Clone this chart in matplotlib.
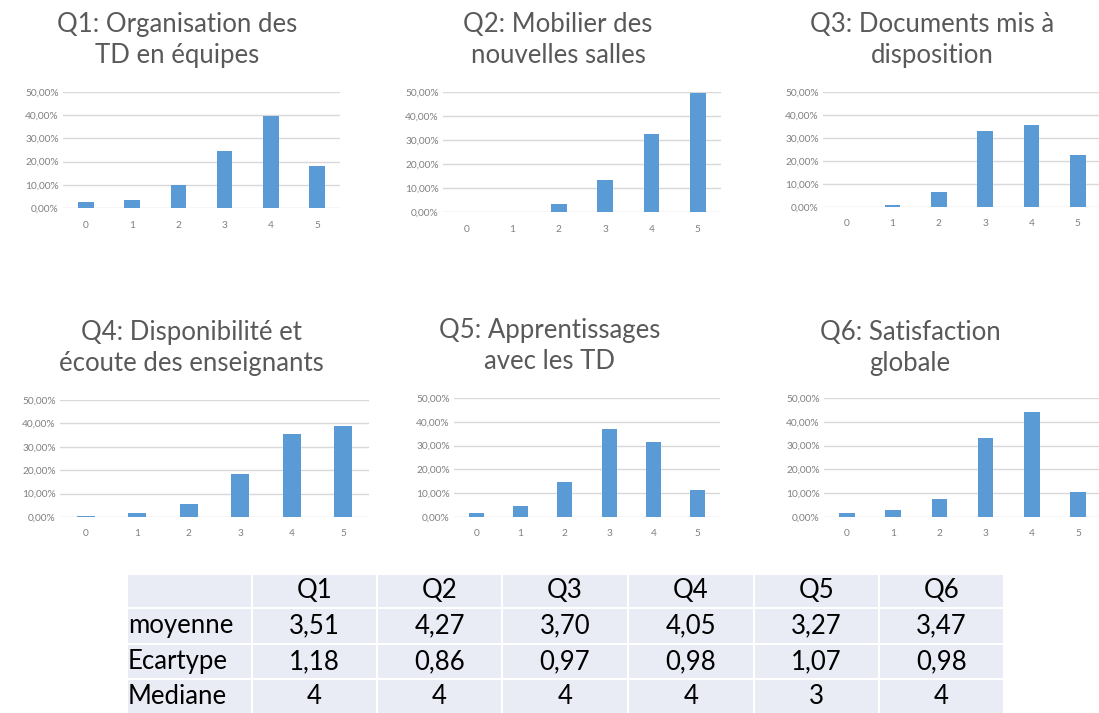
import matplotlib
matplotlib.use("Agg")
import matplotlib.pyplot as plt
from matplotlib.ticker import FuncFormatter, MultipleLocator
from matplotlib.patches import Rectangle

plt.rcParams['font.family'] = ['Lato', 'DejaVu Sans']

# ---------------- data ----------------
scores = [0, 1, 2, 3, 4, 5]
titles = ["Q1: Organisation des\nTD en équipes",
          "Q2: Mobilier des\nnouvelles salles",
          "Q3: Documents mis à\ndisposition",
          "Q4: Disponibilité et\nécoute des enseignants",
          "Q5: Apprentissages\navec les TD",
          "Q6: Satisfaction\nglobale"]
q1 = [0.025, 0.035, 0.100, 0.245, 0.395, 0.180]
q2 = [0.000, 0.000, 0.035, 0.135, 0.325, 0.495]
q3 = [0.000, 0.010, 0.065, 0.330, 0.355, 0.225]
q4 = [0.005, 0.015, 0.055, 0.185, 0.355, 0.390]
q5 = [0.015, 0.045, 0.145, 0.370, 0.315, 0.115]
q6 = [0.015, 0.030, 0.075, 0.330, 0.440, 0.105]
series = [q1, q2, q3, q4, q5, q6]

table_cols = ["Q1", "Q2", "Q3", "Q4", "Q5", "Q6"]
row_labels = ["moyenne", "Ecartype", "Mediane"]
moyenne = ["3,51", "4,27", "3,70", "4,05", "3,27", "3,47"]
ecartype = ["1,18", "0,86", "0,97", "0,98", "1,07", "0,98"]
mediane = ["4", "4", "4", "4", "3", "4"]

# ---------------- layout (pixels) ----------------
W, H = 1099, 713
fig = plt.figure(figsize=(W / 100, H / 100), dpi=100)

# (x_left, x_right, y_top(50%), y_bottom(0%)) in pixels
axes_px = [(63, 340, 92, 208), (443, 721, 92, 212), (823, 1101, 92, 207),
           (60, 369, 400, 517), (454, 720, 398, 517), (824, 1101, 398, 517)]
title_px = [(177, 40), (558, 40), (932, 40), (191, 348), (550, 346), (910, 348)]

bar_color = "#5B9BD5"
pct_fmt = FuncFormatter(lambda v, p: ("%.2f%%" % (v * 100)).replace(".", ","))

for i in range(6):
    xl, xr, yt, yb = axes_px[i]
    ax = fig.add_axes([xl / W, 1 - yb / H, (xr - xl) / W, (yb - yt) / H])
    ax.bar(scores, series[i], width=0.34, color=bar_color, zorder=3, clip_on=False)
    ax.set_xlim(-0.5, 5.5)
    ax.set_ylim(0, 0.5)
    ax.yaxis.set_major_locator(MultipleLocator(0.1))
    ax.yaxis.set_major_formatter(pct_fmt)
    ax.set_xticks(scores)
    ax.grid(axis='y', color="#D9D9D9", linewidth=1, zorder=0)
    for s in ax.spines.values():
        s.set_visible(False)
    ax.tick_params(length=0, labelsize=7.3, colors="#808080", pad=3)
    ax.tick_params(axis='x', pad=9)
    ax.set_facecolor("none")
    tx, ty = title_px[i]
    fig.text(tx / W, 1 - ty / H, titles[i], ha='center', va='center',
             fontsize=18.5, color="#595959", linespacing=1.3)

# ---------------- table ----------------
tax = fig.add_axes([0, 0, 1, 1])
tax.set_xlim(0, W)
tax.set_ylim(H, 0)
tax.axis('off')
col_edges = [127, 252, 377, 502, 628, 754, 879, 1004]
row_edges = [574, 608, 644, 679, 715]
cell_bg = "#E9EBF5"
for r in range(4):
    for c in range(7):
        x0, x1 = col_edges[c], col_edges[c + 1]
        y0, y1 = row_edges[r], row_edges[r + 1]
        tax.add_patch(Rectangle((x0, y0), x1 - x0, y1 - y0, facecolor=cell_bg,
                                edgecolor="white", linewidth=1.5))

tfs = 18.5
rows = [moyenne, ecartype, mediane]
for c, name in enumerate(table_cols):
    cx = (col_edges[c + 1] + col_edges[c + 2]) / 2
    tax.text(cx, (row_edges[0] + row_edges[1]) / 2, name, ha='center', va='center',
             fontsize=tfs, color="black")
for r, lab in enumerate(row_labels):
    cy = (row_edges[r + 1] + row_edges[r + 2]) / 2
    tax.text(col_edges[0] + 1, cy, lab, ha='left', va='center', fontsize=tfs, color="black")
    for c in range(6):
        cx = (col_edges[c + 1] + col_edges[c + 2]) / 2
        tax.text(cx, cy, rows[r][c], ha='center', va='center', fontsize=tfs, color="black")

fig.savefig("out.png", dpi=100)
